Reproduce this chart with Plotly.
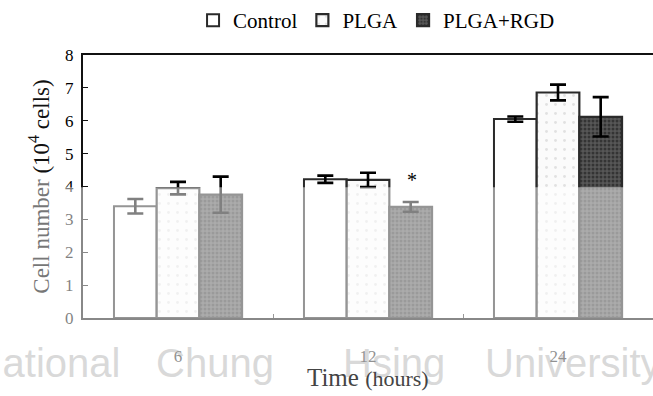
import plotly.graph_objects as go

# Cell counts (10^4 cells), mean and SD at each time point
times = ["6", "12", "24"]
control = [3.40, 4.22, 6.05]
control_sd = [0.22, 0.11, 0.08]
plga = [3.95, 4.20, 6.86]
plga_sd = [0.19, 0.22, 0.24]
plga_rgd = [3.75, 3.38, 6.12]
plga_rgd_sd = [0.55, 0.15, 0.60]
y_ticks = [0, 1, 2, 3, 4, 5, 6, 7, 8]

# watermark words and their left edges (in plot-area fractions)
mark_words = ["National", "Chung", "Hsing", "University"]
mark_left = [-0.197, 0.123, 0.451, 0.700]

serif = "Liberation Serif"
edge = "#2a2a2a"

def err(vals):
    return dict(type="data", array=vals, visible=True, color="black",
                thickness=2.6, width=8)

fig = go.Figure()
fig.add_trace(go.Bar(
    name="Control", x=times, y=control, error_y=err(control_sd),
    marker=dict(color="white", line=dict(color=edge, width=2)),
))
fig.add_trace(go.Bar(
    name="PLGA", x=times, y=plga, error_y=err(plga_sd),
    marker=dict(color="#fbfbfb", line=dict(color=edge, width=2.2),
                pattern=dict(shape=".", bgcolor="#fbfbfb", fgcolor="#c8c8c8",
                             size=9, solidity=0.08)),
))
fig.add_trace(go.Bar(
    name="PLGA+RGD", x=times, y=plga_rgd, error_y=err(plga_rgd_sd),
    marker=dict(color="#4a4a4a", line=dict(color=edge, width=2.2),
                pattern=dict(shape=".", bgcolor="#575757", fgcolor="#111111",
                             size=4, solidity=0.45)),
))

# significance mark over the 12 h PLGA+RGD bar
i12 = times.index("12")
fig.add_annotation(x=i12, y=plga_rgd[i12] + plga_rgd_sd[i12], xshift=44, yshift=22,
                   text="*", showarrow=False,
                   font=dict(family=serif, size=20, color="black"))

# faint institutional watermark behind the axis labels
for word, x0 in zip(mark_words, mark_left):
    fig.add_shape(type="rect", xref="paper", yref="paper",
                  x0=x0, x1=x0 + 0.3, y0=-0.22, y1=-0.09,
                  line=dict(width=0), fillcolor="rgba(0,0,0,0)", layer="below",
                  label=dict(text=word, textposition="middle left", padding=0,
                             font=dict(family="Liberation Sans", size=40,
                                       color="#b2b2b2")))

# x-axis title
fig.add_annotation(xref="paper", yref="paper", x=0.5, y=-0.225,
                   xanchor="center", yanchor="middle",
                   text='Time <span style="font-size:22px">(hours)</span>',
                   showarrow=False,
                   font=dict(family=serif, size=25, color="#444"))

# lightened lower band of the page
fig.add_shape(type="rect", xref="paper", yref="paper",
              x0=-0.3, x1=1.1, y0=-0.5, y1=0.497,
              fillcolor="white", opacity=0.5, line=dict(width=0),
              layer="above")

fig.update_layout(
    width=653, height=396,
    margin=dict(l=83, r=0, t=45, b=78),
    paper_bgcolor="white", plot_bgcolor="white",
    barmode="group", bargap=0.326, bargroupgap=0,
    font=dict(family=serif, size=16, color="black"),
    showlegend=True,
    legend=dict(orientation="h", x=0.515, xanchor="center", y=1.055,
                yanchor="bottom", font=dict(family=serif, size=21),
                itemwidth=30, tracegroupgap=0, traceorder="normal"),
    xaxis=dict(
        type="category", range=[-0.5, len(times) - 0.5],
        showline=True, linecolor="#111", linewidth=2, mirror=True,
        ticks="inside", ticklen=4, tickcolor="#333", tickson="boundaries",
        tickfont=dict(family=serif, size=17, color="#222"),
        ticklabelstandoff=22,
        showgrid=False, zeroline=False,
    ),
    yaxis=dict(
        range=[0, 8], tickvals=y_ticks, showline=True, linecolor="#111",
        linewidth=2, ticks="inside", ticklen=5, tickcolor="#111",
        tickfont=dict(family=serif, size=17, color="black"),
        ticklabelstandoff=4,
        title=dict(text='<span style="color:#777">Cell number</span> (10<sup>4</sup> cells)',
                   standoff=9, font=dict(family=serif, size=23, color="#111")),
        showgrid=False, zeroline=False,
    ),
)

fig.write_html("out.html")
